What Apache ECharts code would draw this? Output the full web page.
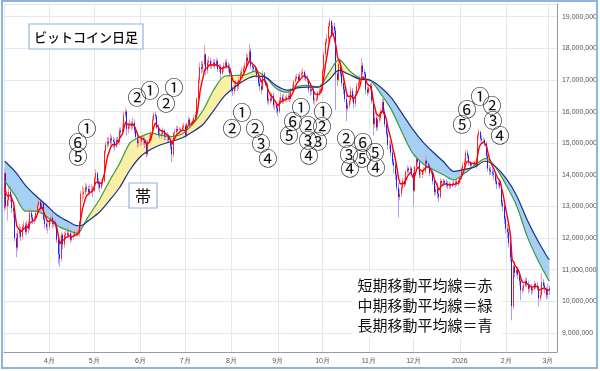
<!DOCTYPE html>
<html><head><meta charset="utf-8">
<script src="https://cdn.jsdelivr.net/npm/echarts@6/dist/echarts.min.js"></script>
<style>html,body{margin:0;padding:0;background:#fff}#c{width:600px;height:371px}</style>
</head><body><div id="c"></div><script>
// ---- DATA (prices in 万円 = 10,000 JPY) ----
const startDate = [2025, 2, 2];   // first candle: 2025-03-02, one candle per day
const firstOpen = 1295;
const closes = [
1405,1300,1320,1345,1330,1295,1285, 1200,1170,1215,1225,1205,1235,1240, 1220,1245,1230,1280,1265,1255,1260,
1280,1305,1315,1295,1310,1260,1245, 1235,1235,1255,1265,1245,1250,1245, 1195,1150,1135,1210,1180,1210,1215,
1210,1215,1195,1205,1210,1215,1215, 1215,1250,1340,1340,1345,1360,1355, 1345,1355,1355,1350,1390,1405,1380,
1370,1360,1375,1380,1475,1495,1505, 1500,1515,1510,1505,1490,1510,1505, 1540,1535,1545,1590,1600,1545,1555,
1560,1555,1565,1540,1520,1500,1505, 1505,1515,1510,1500,1465,1505,1515, 1530,1575,1590,1585,1550,1530,1525,
1530,1540,1520,1525,1520,1510,1490, 1465,1530,1535,1545,1540,1540,1545, 1550,1555,1525,1560,1575,1560,1565,
1570,1580,1590,1640,1700,1740,1735, 1750,1780,1730,1755,1760,1745,1750, 1755,1745,1760,1735,1740,1720,1735,
1745,1755,1745,1740,1720,1670,1665, 1680,1685,1680,1700,1720,1725,1735, 1745,1770,1760,1790,1745,1740,1735,
1730,1715,1690,1680,1670,1720,1695, 1685,1635,1640,1635,1650,1620,1620, 1610,1600,1635,1645,1635,1640,1640,
1645,1650,1640,1665,1675,1695,1705, 1710,1700,1715,1720,1725,1710,1705, 1700,1670,1665,1670,1635,1635,1640,
1660,1665,1670,1730,1780,1820,1830, 1870,1885,1845,1870,1855,1720,1700, 1750,1720,1690,1670,1640,1610,1620,
1635,1665,1640,1625,1655,1680,1690, 1705,1745,1725,1720,1670,1660,1675, 1680,1635,1560,1580,1550,1575,1580,
1600,1630,1600,1560,1530,1495,1495, 1470,1440,1430,1400,1360,1330,1340, 1360,1380,1370,1410,1420,1415,1420,
1405,1350,1425,1450,1440,1400,1400, 1410,1410,1445,1435,1430,1405,1410, 1380,1345,1355,1340,1330,1380,1375,
1380,1375,1370,1365,1370,1365,1370, 1375,1370,1380,1375,1390,1420,1430, 1440,1470,1460,1440,1430,1435,1435,
1440,1430,1525,1535,1515,1510,1510, 1500,1460,1420,1415,1410,1405,1400, 1380,1370,1375,1365,1310,1300,1260,
1230,1220,1185,1140,985,1110,1090, 1100,1085,1065,1035,1040,1050,1065, 1055,1040,1045,1035,1040,1055,1050,
1045,1010,1020,1060,1050,1040,1020, 1040,1035];
const highs = [
1422,1410,1335,1360,1365,1340,1305, 1295,1215,1225,1245,1235,1245,1255, 1250,1255,1255,1295,1290,1275,1270,
1290,1315,1328,1320,1320,1315,1270, 1255,1250,1265,1280,1290,1260,1260, 1250,1200,1190,1220,1215,1220,1225,
1235,1235,1225,1215,1220,1225,1225, 1225,1255,1350,1365,1360,1375,1370, 1365,1370,1370,1365,1395,1418,1410,
1390,1380,1385,1390,1480,1505,1520, 1520,1530,1525,1520,1515,1520,1520, 1550,1550,1560,1600,1612,1605,1565,
1575,1570,1580,1575,1550,1530,1515, 1515,1525,1525,1520,1510,1510,1525, 1540,1585,1598,1600,1590,1560,1540,
1540,1550,1545,1535,1535,1530,1515, 1500,1535,1545,1555,1555,1550,1550, 1560,1565,1560,1565,1585,1580,1570,
1575,1590,1600,1645,1710,1755,1760, 1760,1810,1785,1765,1775,1770,1760, 1765,1765,1770,1765,1750,1750,1740,
1755,1765,1765,1755,1750,1725,1680, 1690,1700,1695,1710,1730,1740,1745, 1755,1785,1780,1815,1800,1755,1750,
1745,1740,1725,1700,1695,1730,1725, 1705,1690,1655,1660,1660,1660,1635, 1630,1620,1645,1660,1655,1655,1650,
1655,1665,1660,1675,1685,1700,1715, 1720,1720,1725,1730,1738,1730,1720, 1715,1705,1680,1680,1675,1645,1650,
1665,1675,1685,1735,1790,1830,1845, 1880,1895,1890,1880,1880,1865,1730, 1760,1765,1735,1705,1680,1655,1630,
1645,1680,1675,1655,1665,1690,1700, 1715,1770,1755,1735,1725,1680,1685, 1690,1690,1645,1600,1590,1585,1595,
1610,1640,1640,1610,1570,1540,1510, 1505,1480,1450,1445,1410,1375,1355, 1370,1390,1390,1415,1430,1425,1430,
1425,1410,1430,1460,1455,1445,1410, 1415,1425,1465,1455,1440,1435,1420, 1415,1385,1365,1375,1355,1390,1385,
1390,1385,1385,1380,1380,1375,1380, 1385,1385,1390,1385,1395,1425,1440, 1450,1480,1478,1465,1445,1440,1445,
1445,1450,1530,1545,1540,1525,1520, 1515,1505,1465,1430,1425,1420,1415, 1410,1390,1385,1385,1370,1320,1305,
1270,1245,1230,1195,1150,1115,1125, 1110,1110,1095,1070,1050,1060,1075, 1075,1065,1055,1055,1045,1065,1060,
1060,1050,1030,1090,1070,1060,1045, 1055,1050];
const lows = [
1285,1290,1255,1300,1315,1280,1265, 1190,1140,1160,1200,1190,1195,1225, 1210,1210,1215,1225,1255,1245,1245,
1250,1275,1295,1285,1290,1255,1230, 1225,1215,1225,1245,1230,1235,1230, 1185,1120,1110,1125,1165,1170,1200,
1200,1200,1185,1190,1195,1205,1205, 1205,1205,1245,1315,1325,1335,1345, 1335,1335,1340,1330,1345,1380,1370,
1355,1345,1355,1365,1375,1465,1485, 1490,1490,1495,1485,1475,1485,1495, 1495,1520,1525,1540,1580,1525,1530,
1545,1540,1545,1530,1510,1485,1490, 1490,1495,1495,1485,1455,1460,1500, 1510,1525,1570,1575,1545,1520,1515,
1515,1525,1510,1510,1505,1500,1480, 1440,1455,1520,1525,1530,1530,1535, 1535,1540,1515,1520,1555,1550,1555,
1555,1565,1570,1585,1635,1690,1720, 1725,1745,1715,1720,1740,1735,1735, 1740,1735,1740,1725,1725,1705,1715,
1725,1735,1735,1725,1710,1660,1650, 1655,1665,1665,1670,1690,1710,1715, 1725,1740,1745,1755,1735,1725,1725,
1720,1705,1680,1665,1655,1665,1690, 1680,1625,1620,1625,1630,1610,1605, 1595,1585,1595,1625,1625,1625,1630,
1630,1635,1630,1635,1660,1670,1690, 1700,1690,1695,1705,1710,1700,1695, 1690,1660,1650,1655,1625,1620,1630,
1635,1650,1655,1665,1725,1770,1810, 1820,1860,1835,1840,1845,1605,1680, 1695,1710,1680,1655,1630,1570,1600,
1610,1625,1630,1610,1615,1650,1675, 1685,1700,1715,1700,1655,1650,1655, 1665,1625,1525,1550,1540,1540,1565,
1570,1595,1590,1550,1520,1480,1480, 1460,1430,1405,1385,1350,1265,1320, 1330,1350,1360,1365,1400,1405,1410,
1400,1300,1345,1420,1430,1390,1390, 1390,1400,1405,1425,1420,1395,1400, 1370,1335,1335,1325,1315,1325,1365,
1365,1365,1360,1355,1355,1355,1360, 1365,1360,1365,1365,1370,1385,1415, 1420,1435,1450,1430,1420,1420,1425,
1425,1420,1425,1515,1505,1500,1500, 1490,1450,1410,1400,1400,1395,1385, 1370,1355,1360,1355,1300,1285,1245,
1215,1200,1170,1125,940,975,1075, 1080,1070,1050,1005,1025,1030,1045, 1045,1025,1030,1020,1025,1035,1040,
1035,985,1000,1015,1040,1025,1005, 1010,1020];
// short-term moving average (red), one value per day
const shortMA = [
1360,1340,1333,1337,1335,1322,1310, 1273,1239,1231,1229,1221,1226,1231, 1227,1233,1232,1248,1254,1254,1256,
1264,1278,1290,1292,1298,1285,1272, 1260,1252,1253,1257,1253,1252,1250, 1232,1205,1182,1191,1187,1195,1202,
1205,1208,1204,1204,1206,1209,1211, 1212,1225,1263,1289,1308,1325,1335, 1338,1344,1348,1349,1363,1377,1378,
1375,1370,1372,1375,1408,1437,1460, 1473,1487,1495,1498,1495,1500,1502, 1515,1522,1530,1550,1567,1560,1558,
1559,1558,1560,1553,1542,1528,1520, 1515,1515,1513,1509,1494,1498,1504, 1513,1534,1553,1564,1559,1549,1541,
1537,1538,1532,1530,1527,1521,1511, 1496,1507,1516,1526,1531,1534,1538, 1542,1546,1539,1546,1556,1557,1560,
1563,1569,1576,1597,1631,1667,1690, 1710,1733,1732,1740,1747,1746,1747, 1750,1748,1752,1746,1744,1736,1736,
1739,1744,1744,1743,1735,1713,1697, 1691,1689,1686,1691,1701,1709,1718, 1727,1741,1747,1761,1756,1751,1746,
1741,1732,1718,1705,1693,1702,1700, 1695,1675,1663,1654,1653,1642,1635, 1627,1618,1624,1631,1632,1635,1637,
1640,1643,1642,1650,1658,1670,1682, 1691,1694,1701,1707,1713,1712,1710, 1707,1695,1685,1680,1665,1655,1650,
1653,1657,1661,1684,1716,1751,1777, 1808,1834,1838,1849,1851,1807,1771, 1764,1749,1729,1709,1686,1661,1647,
1643,1650,1647,1640,1645,1657,1668, 1680,1702,1710,1713,1699,1686,1682, 1681,1666,1631,1614,1593,1587,1585,
1590,1603,1602,1588,1569,1544,1528, 1509,1486,1467,1445,1417,1388,1372, 1368,1372,1371,1384,1396,1402,1408,
1407,1388,1400,1417,1425,1417,1411, 1411,1411,1422,1426,1427,1420,1417, 1405,1385,1375,1363,1352,1361,1366,
1371,1372,1371,1369,1369,1368,1369, 1371,1371,1374,1374,1379,1393,1405, 1417,1435,1443,1442,1438,1437,1436,
1437,1435,1465,1488,1497,1501,1504, 1503,1489,1466,1449,1436,1426,1417, 1405,1393,1387,1380,1357,1338,1312,
1285,1263,1237,1205,1132,1125,1113, 1109,1101,1089,1071,1061,1057,1060, 1058,1052,1050,1045,1043,1047,1048,
1047,1035,1030,1040,1043,1042,1035, 1037,1036];
// medium (green) and long (navy) moving averages, read at these day offsets
const maDays = [0,7,14,21,28,35,42,49,53,56,63,70,77,84,91,98,105,112,119,126,133,140,147,154,161,168,175,182,189,194,196,203,210,217,224,231,238,245,252,259,266,273,280,287,294,301,308,313,315,322,328,336,343,350,357,364,365];
const midMA  = [1380,1334,1285,1285,1268,1240,1225,1215,1243,1268,1318,1379,1436,1501,1520,1532,1525,1521,1530,1560,1605,1668,1711,1714,1716,1728,1708,1673,1661,1671,1679,1683,1677,1721,1764,1729,1706,1699,1656,1607,1537,1471,1436,1417,1400,1384,1404,1422,1430,1451,1430,1368,1303,1207,1133,1071,1064];
const longMA = [1443,1410,1366,1333,1304,1273,1254,1239,1243,1255,1280,1318,1360,1416,1458,1481,1496,1506,1517,1536,1560,1603,1648,1677,1700,1712,1708,1682,1668,1671,1675,1677,1677,1699,1730,1717,1702,1699,1677,1644,1596,1547,1505,1472,1442,1411,1417,1422,1425,1443,1430,1389,1335,1259,1194,1137,1131];
const legendLines = ['短期移動平均線＝赤', '中期移動平均線＝緑', '長期移動平均線＝青'];
const titleText = 'ビットコイン日足';
const bandText = '帯';
// stage marks (text and pixel layout)
const stageMarks = [
['①',87,129],['⑥',78,143],['⑤',78,157],
['②',137,98],['①',150,91],['②',166,104],['①',174,88],
['①',242,113],['②',232,129],['②',255,129],['③',261,144],['④',268,159],
['①',301,108],['⑥',293,122],['②',308,126],['⑤',289,136],['③',308,141],['④',309,156],['①',323,112],['②',322,127],['③',318,142],
['②',346,139],['⑥',363,143],['③',349,155],['⑤',375,153],['④',350,169],['⑤',362,159],['④',376,168],
['①',480,97],['⑥',467,110],['⑤',462,125],['②',492,106],['③',493,121],['④',500,136]
];

// ---- BUILD ----
function day(i){ return new Date(startDate[0], startDate[1], startDate[2] + i).getTime(); }
const opens = closes.map((c,i)=> i ? closes[i-1] : firstOpen);
const wickData = closes.map((c,i)=>[day(i), opens[i], c, lows[i], highs[i]]);
const bodyData = closes.map((c,i)=>[day(i), opens[i], c, Math.min(opens[i],c), Math.max(opens[i],c)]);
const shortData = shortMA.map((v,i)=>[day(i), v]);
const midData = maDays.map((d,k)=>[day(d), midMA[k]]);
const longData = maDays.map((d,k)=>[day(d), longMA[k]]);
const bandLow = maDays.map((d,k)=>[day(d), Math.min(midMA[k], longMA[k])]);
const bandUp = maDays.map((d,k)=>[day(d), Math.max(midMA[k]-longMA[k], 0)]);
const bandDn = maDays.map((d,k)=>[day(d), Math.max(longMA[k]-midMA[k], 0)]);

const JP = '"Noto Sans CJK JP", sans-serif';
const SM = 0.3;
const hidden = {opacity:0, width:0};
const gridColor = '#e1eaf2';
const centered = {align:'center', verticalAlign:'middle', textAlign:'center', textVerticalAlign:'middle'};

const graphics = [];
graphics.push({type:'rect', z:100, shape:{x:352, y:272, width:150, height:66}, style:{fill:'#fff'}});
legendLines.forEach((t,k)=>graphics.push({type:'text', z:101, x:425, y:285+k*20,
  style:Object.assign({text:t, font:'15px '+JP, fill:'#111'}, centered)}));
graphics.push({type:'rect', z:100, shape:{x:29, y:24, width:114, height:25}, style:{fill:'#fff', stroke:'#8fb4e0', lineWidth:1.2}});
graphics.push({type:'text', z:101, x:86, y:37, style:Object.assign({text:titleText, font:'500 13px '+JP, fill:'#111'}, centered)});
graphics.push({type:'rect', z:100, shape:{x:129, y:183, width:28, height:25}, style:{fill:'#fff', stroke:'#8fb4e0', lineWidth:1.2}});
graphics.push({type:'text', z:101, x:143, y:196, style:Object.assign({text:bandText, font:'16px '+JP, fill:'#111'}, centered)});
stageMarks.forEach(m=>graphics.push({type:'text', z:101, x:m[1], y:m[2],
  style:Object.assign({text:m[0], font:'19px '+JP, fill:'#111'}, centered)}));
graphics.push({type:'rect', z:102, shape:{x:2, y:1, width:595, height:367}, style:{fill:'none', stroke:'#8fb4e0', lineWidth:2}});

const chart = echarts.init(document.getElementById('c'), null, {renderer:'canvas'});
chart.setOption({
  animation:false,
  backgroundColor:'#fff',
  grid:{left:4, right:39, top:4, bottom:19},
  xAxis:{
    type:'time',
    min:new Date(2025,2,1,12).getTime(),
    max:new Date(2026,2,7,2).getTime(),
    minInterval:28*864e5, maxInterval:31*864e5,
    axisLine:{show:true, lineStyle:{color:'#9a9a9a'}},
    axisTick:{show:false},
    splitLine:{show:true, lineStyle:{color:gridColor}},
    axisLabel:{fontSize:7, color:'#555', margin:6, showMinLabel:false, showMaxLabel:false,
      formatter:function(v){const d=new Date(v); return d.getMonth()===0 ? String(d.getFullYear()) : (d.getMonth()+1)+'月';}}
  },
  yAxis:{
    type:'value', position:'right', min:840, max:1940, splitNumber:11,
    axisLine:{show:true, lineStyle:{color:'#9a9a9a'}},
    axisTick:{show:false},
    splitLine:{show:true, lineStyle:{color:gridColor}},
    axisLabel:{fontSize:7, color:'#555', margin:5, showMinLabel:false, showMaxLabel:false,
      formatter:function(v){return Math.round(v*10000).toLocaleString('en-US');}}
  },
  series:[
    {type:'line', stack:'up', data:bandLow, symbol:'none', smooth:SM, lineStyle:hidden, silent:true, z:1},
    {type:'line', stack:'up', data:bandUp, symbol:'none', smooth:SM, lineStyle:hidden, areaStyle:{color:'#f9f0a6', opacity:1}, silent:true, z:1},
    {type:'line', stack:'dn', data:bandLow, symbol:'none', smooth:SM, lineStyle:hidden, silent:true, z:1},
    {type:'line', stack:'dn', data:bandDn, symbol:'none', smooth:SM, lineStyle:hidden, areaStyle:{color:'#a6cff4', opacity:1}, silent:true, z:1},
    {type:'candlestick', data:wickData, encode:{x:0, y:[1,2,3,4]}, barWidth:1, z:2,
      itemStyle:{color:'#ff9c9c', color0:'#a0a0ff', borderColor:'#ff9c9c', borderColor0:'#a0a0ff', borderWidth:1}},
    {type:'candlestick', data:bodyData, encode:{x:0, y:[1,2,3,4]}, barWidth:1, z:3,
      itemStyle:{color:'#ff2020', color0:'#2020ff', borderColor:'#ff2020', borderColor0:'#2020ff', borderWidth:1}},
    {type:'line', data:midData, symbol:'none', smooth:SM, lineStyle:{color:'#3c9a3c', width:1.2}, z:4},
    {type:'line', data:longData, symbol:'none', smooth:SM, lineStyle:{color:'#1c2f8c', width:1.2}, z:4},
    {type:'line', data:shortData, symbol:'none', lineStyle:{color:'#ff0000', width:1.4}, z:5}
  ],
  graphic:graphics
});
</script></body></html>
